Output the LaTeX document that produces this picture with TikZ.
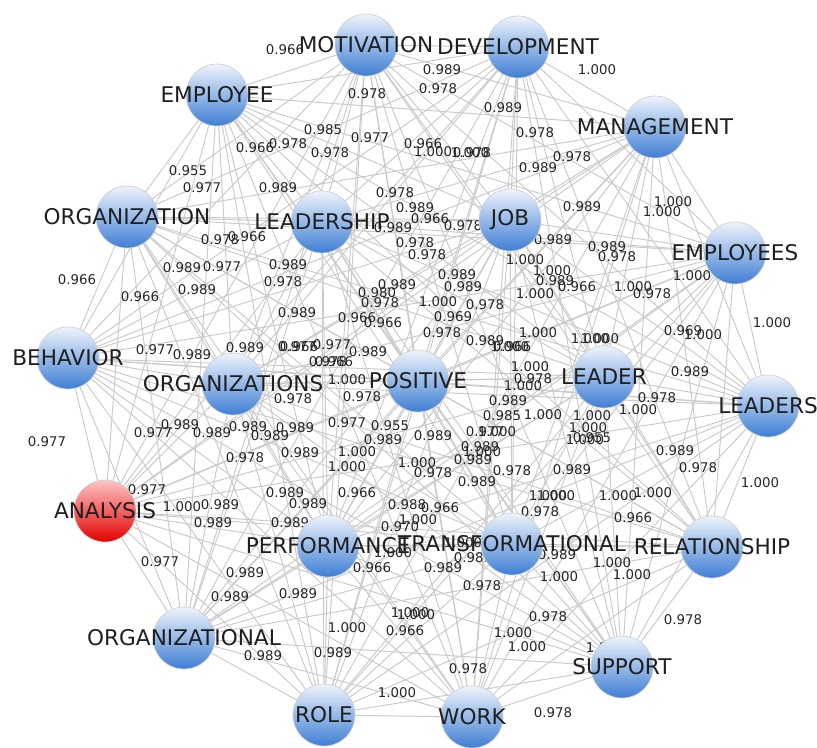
\documentclass[tikz,border=0pt]{standalone}
\usepackage{fontspec}
\setmainfont{DejaVu Sans}
\usepackage{tikz}

\definecolor{linkgray}{RGB}{202,202,202}
\definecolor{balltop}{RGB}{238,244,252}
\definecolor{ballbottom}{RGB}{62,126,212}
\definecolor{hubtop}{RGB}{255,196,196}
\definecolor{hubbottom}{RGB}{226,0,0}

\pgfdeclarelayer{links}
\pgfdeclarelayer{weights}
\pgfsetlayers{links,weights,main}

\def\termlist{motivation,development,employee,management,organization,leadership,job,employees,behavior,organizations,positive,leader,leaders,analysis,performance,transformational,relationship,organizational,support,role,work}

\begin{document}
\begin{tikzpicture} [x=0.02cm,y=-0.02cm,
  term/.style={circle,minimum size=1.24cm,inner sep=0pt,draw=black!18,line width=0.4pt,top color=balltop,bottom color=ballbottom},
  hub/.style={term,top color=hubtop,bottom color=hubbottom},
  termtext/.style={font=\fontsize{12.3}{14}\selectfont,text=black!88,inner sep=0pt},
  weight/.style={font=\fontsize{7.6}{9}\selectfont,text=black!85,inner sep=0pt},
  link/.style={draw=linkgray,line width=0.55pt}]

  \useasboundingbox (0,0) rectangle (817,747);

  % terms
  \foreach \n/\x/\y/\s in {motivation/366/45/term, development/518/47/term, employee/217/95/term,
      management/655/127/term, organization/127/217/term, leadership/322/222/term, job/510/220/term,
      employees/735/253/term, behavior/68/358/term, organizations/233/384/term, positive/418/381/term,
      leader/604/377/term, leaders/768/406/term, analysis/105/511/hub, performance/328/546/term,
      transformational/512/544/term, relationship/712/547/term, organizational/184/638/term,
      support/622/667/term, role/324/715/term, work/472/717/term}
    \node[\s] (\n) at (\x,\y) {};

  \foreach \n/\t in {motivation/MOTIVATION, development/DEVELOPMENT, employee/EMPLOYEE,
      management/MANAGEMENT, organization/ORGANIZATION, leadership/LEADERSHIP, job/JOB,
      employees/EMPLOYEES, behavior/BEHAVIOR, organizations/ORGANIZATIONS, positive/POSITIVE,
      leader/LEADER, leaders/LEADERS, analysis/ANALYSIS, performance/PERFORMANCE,
      transformational/TRANSFORMATIONAL, relationship/RELATIONSHIP, organizational/ORGANIZATIONAL,
      support/SUPPORT, role/ROLE, work/WORK}
    \node[termtext] (\n-t) at (\n) {\t};

  % links
  \begin{pgfonlayer}{links}
    \foreach \a [count=\i] in \termlist {
      \foreach \b [count=\j] in \termlist {
        \ifnum\j>\i \draw[link] (\a) -- (\b); \fi
      }
    }
  \end{pgfonlayer}

  % weights
  \begin{pgfonlayer}{weights}
    \foreach \x/\y/\w [count=\k] in {
      285/50/0.966, 367/94/0.978, 442/70/0.989, 438/89/0.978, 597/70/1.000, 503/108/0.989,
      535/133/0.978, 323/130/0.985, 370/138/0.977, 255/148/0.966, 288/144/0.978, 330/153/0.978,
      423/144/0.966, 433/152/1.000, 470/153/1.000, 472/153/0.978, 572/157/0.978, 538/168/0.989,
      188/171/0.955, 202/188/0.977, 278/188/0.989, 395/193/0.978, 415/208/0.989, 430/219/0.966,
      393/228/0.989, 415/243/0.978, 427/255/0.978, 463/226/0.978, 582/207/0.989, 673/202/1.000,
      662/212/1.000, 553/240/0.989, 607/247/0.989, 617/257/0.978, 525/260/1.000, 552/271/1.000,
      555/281/0.989, 577/287/0.966, 535/294/1.000, 633/287/1.000, 652/294/0.978, 692/276/1.000,
      772/323/1.000, 683/331/0.969, 703/335/1.000, 538/333/1.000, 590/339/1.000, 600/339/1.000,
      220/240/0.978, 247/237/0.966, 182/268/0.989, 222/267/0.977, 288/265/0.989, 283/282/0.978,
      457/275/0.989, 463/287/0.989, 438/302/1.000, 485/305/0.978, 397/285/0.989, 377/293/0.980,
      380/303/0.978, 77/280/0.966, 140/297/0.966, 197/290/0.989, 297/313/0.989, 357/318/0.966,
      383/323/0.966, 453/317/0.969, 442/333/0.978, 485/341/0.989, 510/347/1.000, 512/347/0.966,
      332/345/0.977, 297/347/0.977, 299/347/0.966, 155/350/0.977, 192/355/0.989, 245/348/0.989,
      368/352/0.989, 328/362/0.978, 334/362/0.966, 347/380/1.000, 293/399/0.978, 362/397/0.978,
      530/367/1.000, 533/379/0.978, 523/386/1.000, 508/401/0.989, 502/416/0.985, 543/415/1.000,
      592/416/1.000, 588/428/1.000, 585/440/1.000, 592/438/0.955, 690/372/0.989, 657/398/0.978,
      638/410/1.000, 347/423/0.977, 390/426/0.955, 295/428/0.989, 270/436/0.989, 433/436/0.989,
      383/440/0.989, 485/432/0.977, 497/432/1.000, 300/453/0.989, 357/452/1.000, 347/467/1.000,
      480/447/0.989, 482/452/1.000, 417/463/1.000, 433/473/0.978, 473/460/0.989, 512/471/0.978,
      477/482/0.989, 572/470/0.989, 285/493/0.989, 308/504/0.989, 357/493/0.966, 407/505/0.988,
      440/508/0.966, 47/442/0.977, 180/425/0.989, 153/433/0.977, 212/433/0.989, 248/427/0.989,
      245/458/0.978, 147/490/0.977, 182/507/1.000, 220/505/0.989, 213/523/0.989, 290/523/0.989,
      675/451/0.989, 698/468/0.978, 760/483/1.000, 548/496/1.000, 556/496/1.000, 540/512/0.978,
      618/496/1.000, 653/493/1.000, 633/518/0.966, 418/520/1.000, 400/527/0.970, 393/553/1.000,
      463/543/1.000, 372/568/0.966, 443/568/0.989, 473/558/0.989, 557/555/0.989, 559/577/1.000,
      612/563/1.000, 632/575/1.000, 482/586/0.978, 410/613/1.000, 416/615/1.000, 405/631/0.966,
      347/628/1.000, 333/653/0.989, 548/617/0.978, 513/633/1.000, 527/647/1.000, 468/669/0.978,
      683/620/0.978, 553/713/0.978, 605/648/1.000, 160/562/0.977, 245/573/0.989, 230/597/0.989,
      298/594/0.989, 263/656/0.989, 397/693/1.000}
      \node[weight] (w\k) at (\x,\y) {\w};
  \end{pgfonlayer}

\end{tikzpicture}
\end{document}
